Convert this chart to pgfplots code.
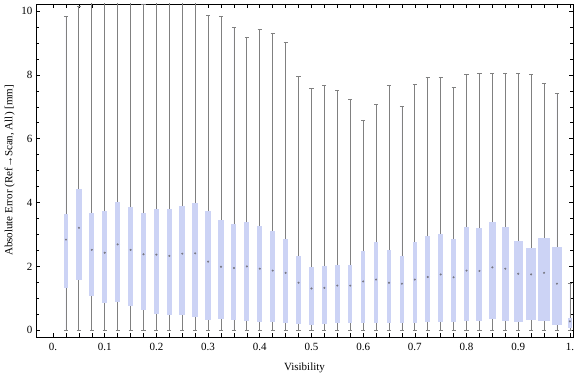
\documentclass[border=0pt]{standalone}
\usepackage{fontspec}
\setmainfont{Liberation Serif}
\usepackage{pgfplots}
\usepackage{pgfplotstable}
\pgfplotsset{compat=1.18}
\usepgfplotslibrary{statistics}
\definecolor{boxblue}{RGB}{204,211,245}
\definecolor{whiskgray}{RGB}{128,128,128}
\definecolor{medgray}{RGB}{120,120,130}

\pgfplotstableread{
pos   lw  lq    med   uq    uw     w
0.025 0   1.34  2.84  3.64  9.82   0.0091
0.05  0   1.59  3.21  4.42  10.14  0.0103
0.075 0   1.08  2.52  3.67  10.8   0.0097
0.1   0   0.86  2.43  3.73  10.8   0.0097
0.125 0   0.89  2.69  4.02  10.8   0.0103
0.15  0   0.77  2.52  3.86  10.6   0.0103
0.175 0   0.63  2.38  3.68  10.22  0.0103
0.2   0   0.51  2.37  3.81  10.8   0.0110
0.225 0   0.48  2.33  3.79  10.8   0.0100
0.25  0   0.48  2.40  3.90  10.8   0.0116
0.275 0   0.42  2.41  3.98  10.8   0.0116
0.3   0   0.32  2.15  3.73  9.86   0.0116
0.325 0   0.36  1.99  3.45  9.83   0.0116
0.35  0   0.32  1.95  3.32  9.49   0.0097
0.375 0   0.29  2.00  3.38  9.17   0.0097
0.4   0   0.26  1.93  3.26  9.43   0.0097
0.425 0   0.26  1.87  3.10  9.30   0.0097
0.45  0   0.23  1.80  2.85  9.02   0.0097
0.475 0   0.21  1.49  2.34  7.94   0.0097
0.5   0   0.18  1.31  1.97  7.58   0.0097
0.525 0   0.20  1.33  2.01  7.67   0.0097
0.55  0   0.23  1.40  2.04  7.51   0.0097
0.575 0   0.23  1.40  2.04  7.24   0.0075
0.6   0   0.23  1.53  2.48  6.58   0.0075
0.625 0   0.23  1.59  2.76  7.07   0.0084
0.65  0   0.23  1.49  2.51  7.67   0.0084
0.675 0   0.23  1.46  2.32  7.01   0.0084
0.7   0   0.23  1.59  2.76  7.70   0.0084
0.725 0   0.26  1.67  2.94  7.92   0.0097
0.75  0   0.26  1.75  3.03  7.92   0.0097
0.775 0   0.26  1.66  2.87  7.61   0.0097
0.8   0   0.29  1.87  3.25  8.01   0.0103
0.825 0   0.29  1.86  3.19  8.05   0.0116
0.85  0   0.36  1.97  3.39  8.05   0.0129
0.875 0   0.29  1.93  3.23  8.05   0.0129
0.9   0   0.26  1.77  2.79  8.05   0.0174
0.925 0   0.32  1.75  2.57  8.01   0.0193
0.95  0   0.29  1.80  2.88  7.73   0.0218
0.975 0   0.17  1.46  2.62  7.42   0.0193
1.0   0   0.08  0.28  0.39  1.46   0.0090
}\boxdata

\begin{document}
\begin{tikzpicture}
\begin{axis}[
  scale only axis,
  width=537pt, height=333pt,
  xmin=-0.033, xmax=1.006,
  ymin=-0.21, ymax=10.22,
  axis line style={line width=0.7pt},
  tick style={black, line width=0.6pt},
  tick align=inside,
  major tick length=4pt,
  minor tick length=2.7pt,
  xtick={0,0.025,...,1.01},
  xticklabels={0.,,,,0.1,,,,0.2,,,,0.3,,,,0.4,,,,0.5,,,,0.6,,,,0.7,,,,0.8,,,,0.9,,,,1.},
  ytick={0,2,4,6,8,10},
  minor y tick num=3,
  font=\fontsize{11}{13}\selectfont,
  /pgf/number format/assume math mode=true,
  xticklabel style={yshift=-3pt},
  xlabel={Visibility},
  ylabel={Absolute Error (Ref→Scan, All) [mm]},
  xlabel style={yshift=-5pt},
  clip=true,
  boxplot/draw direction=y,
  boxsty/.style={
    draw=whiskgray, fill=boxblue, line width=0.8pt,
    boxplot/draw direction=y,
    boxplot/every box/.style={draw=none, fill=boxblue},
    boxplot/every whisker/.style={draw=whiskgray, line width=0.8pt},
    boxplot/every median/.style={draw=none},
  },
]
\coordinate (fsw) at (rel axis cs:0,0);
\coordinate (fne) at (rel axis cs:1,1);
\pgfplotsinvokeforeach{0,...,39}{%
  \pgfplotstablegetelem{#1}{pos}\of\boxdata \let\bpos\pgfplotsretval
  \pgfplotstablegetelem{#1}{lw}\of\boxdata \let\blw\pgfplotsretval
  \pgfplotstablegetelem{#1}{lq}\of\boxdata \let\blq\pgfplotsretval
  \pgfplotstablegetelem{#1}{med}\of\boxdata \let\bmed\pgfplotsretval
  \pgfplotstablegetelem{#1}{uq}\of\boxdata \let\buq\pgfplotsretval
  \pgfplotstablegetelem{#1}{uw}\of\boxdata \let\buw\pgfplotsretval
  \pgfplotstablegetelem{#1}{w}\of\boxdata \let\bw\pgfplotsretval
  \edef\doplot{\noexpand\addplot[boxsty, boxplot prepared={draw direction=y, draw position=\bpos,
    lower whisker=\blw, lower quartile=\blq, median=\bmed,
    upper quartile=\buq, upper whisker=\buw, box extend=\bw,
    whisker extend=0.008}] coordinates {};}%
  \doplot
}
\addplot[only marks, mark=*, mark size=0.8pt, color=medgray] table[x=pos, y=med] {\boxdata};
\end{axis}
\pgfresetboundingbox
\useasboundingbox ([shift={(-36pt,-40pt)}]fsw) rectangle ([shift={(3pt,4pt)}]fne);
\end{tikzpicture}
\end{document}
